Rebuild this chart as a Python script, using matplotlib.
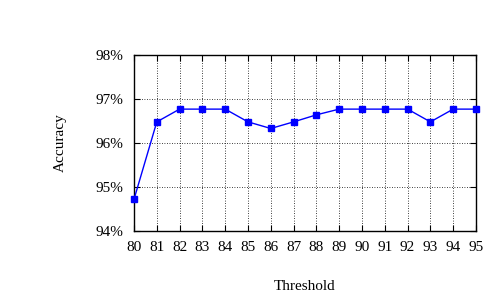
import matplotlib
matplotlib.use("Agg")
import matplotlib.pyplot as plt
from matplotlib.ticker import FuncFormatter

thresholds = [80, 81, 82, 83, 84, 85, 86, 87, 88, 89, 90, 91, 92, 93, 94, 95]
accuracy = [94.72, 96.48, 96.77, 96.77, 96.77, 96.48, 96.33, 96.48, 96.64,
            96.77, 96.77, 96.77, 96.77, 96.48, 96.77, 96.77]
yticks = [94, 95, 96, 97, 98]

plt.rcParams['font.family'] = ['Liberation Serif', 'DejaVu Serif']

fig = plt.figure(figsize=(4.91, 3.0), dpi=100)
ax = fig.add_axes([134/491, 1 - 231/300, (476-134)/491, (231-55)/300])
ax.plot(thresholds, accuracy, color='#0000ff', marker='s', markersize=5,
        linewidth=1, zorder=3, clip_on=False)
ax.set_xlim(80, 95)
ax.set_ylim(94, 98)
ax.set_xticks(thresholds)
ax.set_yticks(yticks)
ax.yaxis.set_major_formatter(FuncFormatter(lambda v, p: f"{v:.0f}%"))
ax.grid(True, color='black', linestyle=(0, (1, 2)), linewidth=0.6)
ax.tick_params(direction='in', top=True, right=True, labelsize=11, length=4, width=0.8)
ax.tick_params(axis='x', pad=7)
ax.tick_params(axis='y', pad=8)
for s in ax.spines.values():
    s.set_linewidth(1)
ax.set_xlabel('Threshold', fontsize=11, labelpad=19)
ax.set_ylabel('Accuracy', fontsize=11, labelpad=20)
fig.savefig('out.png', dpi=100)
